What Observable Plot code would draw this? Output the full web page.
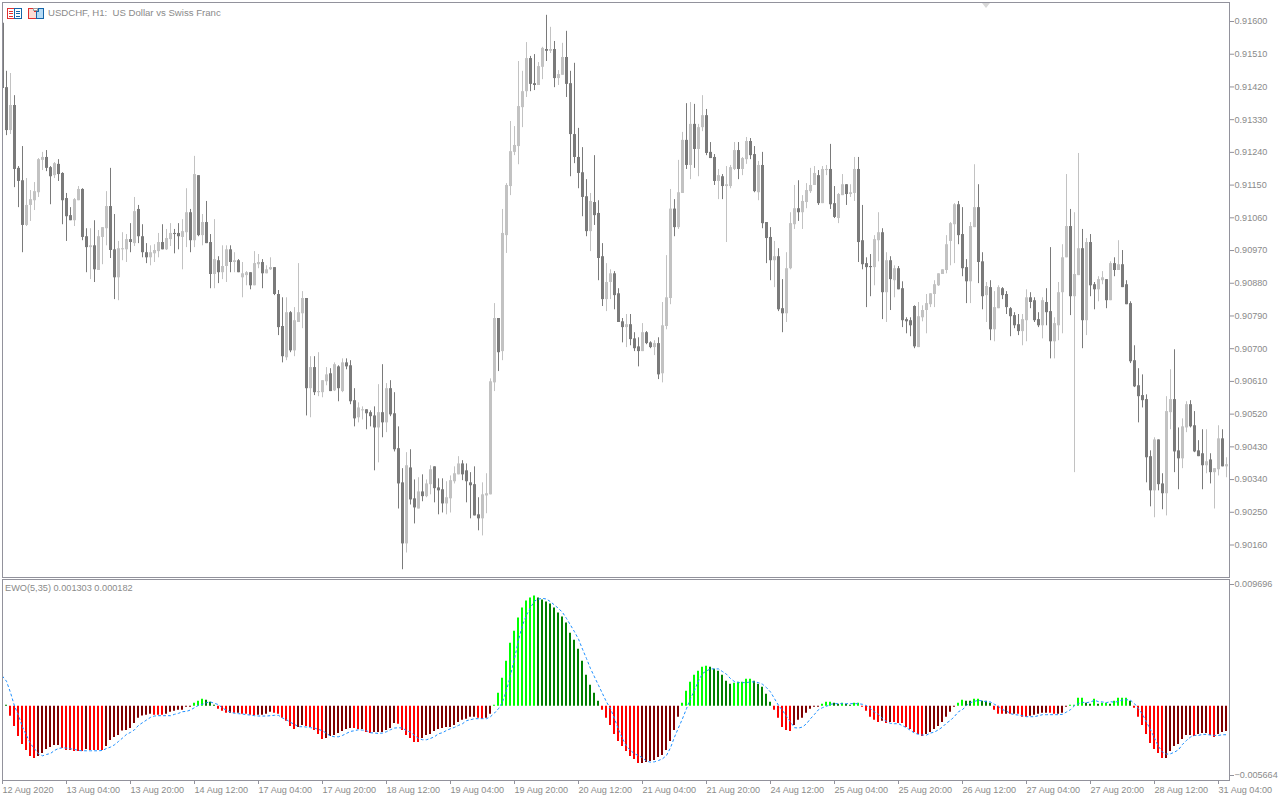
<!DOCTYPE html>
<html>
<head>
<meta charset="utf-8">
<script src="https://cdn.jsdelivr.net/npm/d3@7"></script>
<script src="https://cdn.jsdelivr.net/npm/@observablehq/plot@0.6"></script>
<style>
html,body{margin:0;padding:0;background:#fff;width:1280px;height:800px;overflow:hidden}
#root{position:relative;width:1280px;height:800px;font-family:"Liberation Sans",sans-serif}
#root>*{position:absolute}
.cap{color:#8a8a8a;white-space:pre;line-height:12px}
</style>
</head>
<body>
<div id="root"></div>
<script>
// Prices are stored as points above 0.90000 (1 point = 0.00001)
const highs=[1595,1463,1457,1396,1201,1256,1168,1135,1157,1223,1240,1245,1201,1212,1220,1184,1127,1088,1113,1146,1140,1030,1030,1052,1025,1033,1132,1196,1069,995,1019,1014,1044,1116,1094,1041,989,983,986,1017,1041,1028,1044,1028,1044,1055,1140,1083,1229,1176,1069,1105,1014,1055,953,983,983,983,964,945,937,912,909,967,959,945,928,950,923,860,840,840,802,813,934,857,838,678,678,689,612,648,645,661,653,672,672,667,590,551,540,532,529,540,601,656,604,612,579,485,370,414,422,339,345,353,339,378,375,342,342,334,350,375,403,392,383,359,375,290,331,356,617,824,783,1083,1154,1325,1311,1490,1463,1542,1504,1509,1487,1529,1617,1584,1545,1465,1540,1573,1463,1485,1306,1253,1165,1127,1231,1107,989,934,917,912,865,783,794,794,744,730,769,747,719,722,730,827,956,1138,1110,1218,1295,1374,1377,1372,1317,1396,1358,1267,1234,1193,1179,1201,1204,1267,1267,1226,1281,1278,1256,1215,1240,1047,1033,995,975,890,964,1074,1149,1162,1121,1154,1196,1201,1190,1201,1204,1262,1146,1127,1179,1151,1151,1226,1226,1094,950,959,1011,1074,1030,964,953,928,926,884,785,785,818,827,818,849,851,887,906,917,1011,1047,1099,1105,1088,945,1047,1206,1151,964,882,887,857,873,868,857,813,799,794,794,862,854,840,799,840,865,978,785,882,986,1179,1083,1074,1237,1028,1003,1014,882,898,912,890,939,950,997,970,887,829,708,645,628,573,419,455,449,356,568,642,697,482,507,554,557,527,447,477,477,411,370,488,477,400];
const bodyTops=[1595,1418,1369,1369,1196,1162,1094,1110,1132,1220,1226,1226,1198,1209,1207,1182,1113,1066,1110,1138,1138,1008,983,983,1008,1033,1091,1091,972,975,975,1000,1000,1077,1083,1008,964,964,970,992,992,1003,1017,1017,1017,1022,1074,1074,1179,1176,1047,1047,992,945,942,926,972,972,942,942,906,909,909,934,937,937,917,923,923,849,761,799,799,777,799,838,838,648,648,582,612,628,631,656,650,661,661,653,557,537,532,532,524,515,524,524,590,590,521,425,331,378,372,287,306,306,328,367,375,317,312,290,337,356,383,383,364,331,326,243,298,301,609,783,783,1017,1149,1242,1259,1366,1407,1498,1498,1429,1476,1526,1523,1523,1523,1454,1501,1501,1429,1289,1226,1184,1118,1105,1102,1072,953,882,906,906,851,774,766,766,727,705,744,744,716,714,714,763,840,1084,1084,1129,1273,1273,1317,1317,1308,1341,1341,1240,1226,1176,1173,1151,1198,1245,1245,1223,1270,1270,1234,1204,1204,1047,1006,953,953,810,920,1044,1085,1085,1105,1135,1149,1182,1176,1193,1193,1193,1099,1124,1151,1151,1129,1193,1193,997,934,926,1000,1019,1019,942,942,920,920,865,780,777,816,788,805,824,851,876,906,917,986,1044,1096,1096,1014,923,1036,1088,1088,939,871,868,813,868,865,849,810,791,766,780,840,840,832,780,832,827,802,769,854,950,1036,1036,904,975,975,992,992,876,890,895,890,934,934,931,931,876,824,667,598,571,560,403,449,449,328,527,560,560,419,485,546,546,488,419,411,389,394,370,452,452,381];
const bodyBottoms=[1416,1300,1300,1193,1160,1039,1039,1094,1107,1129,1218,1196,1173,1176,1179,1107,1063,1052,1052,1107,1006,978,978,917,915,1006,1030,970,895,895,972,972,992,989,1008,964,950,950,961,967,972,972,1000,1014,1008,1006,1019,997,997,1011,1011,989,904,904,909,909,926,937,937,909,895,901,873,873,931,906,906,917,849,758,678,675,694,694,772,796,590,590,579,579,579,609,582,584,590,582,650,554,507,510,529,521,513,482,482,496,496,518,422,328,163,163,284,262,259,293,293,326,315,309,273,273,287,334,353,353,334,323,240,232,232,295,298,606,689,692,1011,1146,1240,1256,1363,1407,1427,1424,1424,1474,1518,1518,1443,1443,1452,1427,1289,1226,1182,1116,1022,1022,1066,948,835,835,882,846,772,758,758,725,700,692,692,714,703,703,628,631,761,838,1033,1033,1127,1204,1204,1248,1248,1308,1237,1223,1160,1160,1146,1146,1146,1193,1193,1193,1220,1231,1132,1129,1044,1003,942,942,807,796,796,920,1041,1074,1074,1102,1132,1149,1099,1099,1190,1096,1061,1058,1121,1124,1124,1127,992,931,923,923,923,997,854,854,890,887,862,777,774,763,705,703,785,805,821,849,873,904,915,995,1041,1011,920,884,884,1033,937,843,846,752,752,810,846,813,788,763,747,747,777,827,777,763,763,799,719,719,763,854,950,843,843,901,777,777,873,862,862,887,832,832,915,915,868,821,664,595,568,557,400,309,309,326,301,301,524,416,397,397,482,485,416,403,378,378,359,359,367,375,375];
const lows=[1416,1286,1289,1143,1088,964,1036,1050,1080,1116,1190,1187,1096,1168,1160,1041,995,1052,1036,1107,997,909,890,882,915,931,983,948,835,832,942,937,964,981,989,950,934,928,937,950,972,970,981,961,972,917,978,964,978,1008,983,989,865,865,879,890,882,909,909,909,840,873,862,873,920,865,906,915,846,736,661,667,689,678,772,755,515,510,571,568,565,598,582,582,554,579,642,546,485,496,504,477,485,364,386,455,469,513,416,259,92,138,270,218,259,279,290,298,276,243,248,243,248,328,353,337,276,232,240,199,185,246,298,582,637,667,962,1121,1231,1206,1308,1391,1407,1410,1424,1440,1490,1512,1418,1424,1452,1391,1173,1209,1140,1063,1008,967,1039,887,816,802,835,807,772,716,703,708,692,650,692,711,700,681,615,606,752,821,1008,1028,1127,1193,1165,1196,1173,1297,1231,1223,1149,1110,1110,992,1140,1190,1165,1176,1207,1220,1129,1107,1030,934,887,868,802,744,772,917,1028,1050,1028,1085,1127,1149,1094,1099,1176,1083,1058,1044,1121,1094,1116,1105,937,917,813,843,873,939,780,772,805,840,862,758,741,733,700,703,774,741,813,813,871,904,906,928,934,986,898,824,824,1033,879,807,772,722,719,810,835,794,733,755,736,708,719,810,772,758,727,763,672,672,722,741,950,791,359,901,700,736,843,807,829,876,810,832,898,915,868,821,659,593,496,537,331,265,235,309,257,240,477,359,312,370,469,482,414,403,312,356,328,259,350,375,345];
const rising="0010001111"+"1001000011"+"0010111001"+"1101000111"+"0110011010"+"1001011010"+"1101101100"+"0101110101"+"1101010001"+"1000101000"+"0100101100"+"0111100000"+"1111011111"+"1100110101"+"1000000100"+"0110001000"+"1001011101"+"1010110001"+"0111011001"+"0001001110"+"1111011001"+"1011000011"+"0101000001"+"1111111110"+"0011001011"+"0000011000"+"1001111011"+"0100110101"+"0000000010"+"0110011000"+"0101101";
// EWO histogram and signal, in millionths
const ewoBars=[0,80,-798,-1596,-2394,-3032,-3511,-3990,-4150,-3990,-3751,-3431,-3272,-3112,-3112,-3352,-3511,-3511,-3591,-3591,-3591,-3431,-3511,-3511,-3511,-3511,-3192,-2713,-2474,-2314,-1968,-1915,-1756,-1357,-958,-771,-718,-638,-718,-718,-718,-638,-479,-399,-319,-319,-80,-80,239,399,559,479,319,80,-239,-399,-559,-559,-559,-559,-638,-638,-718,-745,-718,-718,-638,-479,-559,-638,-958,-1197,-1596,-1835,-1676,-1516,-1596,-1676,-1915,-2234,-2633,-2554,-2394,-2314,-2155,-1995,-1835,-1756,-1756,-1835,-1835,-2075,-2155,-2075,-2075,-2075,-1915,-1756,-1357,-1436,-1915,-2314,-2554,-2873,-2873,-2554,-2314,-2234,-1995,-1835,-1756,-1676,-1676,-1516,-1277,-1117,-1037,-878,-878,-958,-1037,-958,-638,80,1037,2234,3591,5027,5985,7022,7820,8379,8618,8778,8618,8459,8299,8140,7820,7421,7102,6623,5825,5267,4549,3591,2474,1676,1037,399,-319,-958,-1516,-2234,-2793,-3192,-3591,-3990,-4229,-4549,-4549,-4469,-4389,-4309,-4070,-3910,-3511,-2793,-1915,-878,239,1197,1915,2474,2793,3112,3192,3112,2953,2793,2474,1995,1756,1835,1915,1915,2155,2155,1995,1756,1516,958,319,-319,-958,-1676,-1915,-1995,-1516,-1117,-958,-559,-239,-80,-80,160,319,319,239,160,239,160,80,239,239,-80,-399,-878,-1117,-1277,-1197,-1357,-1277,-1277,-1357,-1357,-1676,-1835,-2075,-2234,-2394,-2234,-2075,-1835,-1596,-1277,-878,-479,-80,239,479,399,399,559,559,399,399,239,-319,-638,-638,-638,-638,-638,-638,-878,-878,-798,-718,-638,-559,-559,-559,-638,-638,-559,-80,80,80,638,638,239,160,559,160,239,239,160,399,638,638,638,399,-160,-878,-1516,-2234,-2953,-3431,-3751,-4150,-4150,-3591,-3192,-3032,-2633,-2314,-2314,-2394,-2234,-2155,-2155,-2314,-2474,-2234,-2075,-1995];
const ewoSignal=[2394,1995,1091,27,-718,-1649,-2314,-2979,-3378,-3777,-3937,-3830,-3751,-3511,-3352,-3298,-3325,-3378,-3431,-3511,-3538,-3538,-3538,-3538,-3538,-3511,-3352,-3245,-3059,-2793,-2527,-2234,-2075,-1862,-1516,-1303,-1091,-878,-771,-745,-745,-745,-745,-638,-559,-426,-399,-293,-106,80,160,293,346,239,133,-133,-319,-452,-559,-585,-612,-665,-692,-745,-771,-771,-771,-745,-718,-718,-931,-1064,-1277,-1436,-1623,-1623,-1649,-1702,-1729,-1835,-1942,-2155,-2367,-2421,-2421,-2314,-2155,-1995,-1942,-1862,-1889,-1942,-2101,-2128,-2155,-2128,-2022,-1862,-1729,-1702,-1729,-1942,-2048,-2314,-2554,-2660,-2660,-2554,-2421,-2181,-2101,-1915,-1782,-1676,-1516,-1383,-1144,-1064,-984,-984,-984,-984,-825,-532,-186,346,1277,2474,3804,5267,6464,7262,7847,8379,8539,8592,8539,8326,8060,7794,7475,6996,6464,5932,5347,4549,3804,3006,2341,1676,1011,346,-186,-984,-1835,-2580,-3165,-3511,-3777,-3910,-4096,-4362,-4442,-4416,-4309,-4176,-3910,-3298,-2447,-1702,-984,-186,612,1277,2022,2607,2820,2979,2979,2979,2766,2554,2208,1968,1889,1889,1889,1942,1942,1889,1756,1490,1144,612,80,-319,-798,-1250,-1702,-1729,-1649,-1383,-984,-638,-266,-106,0,160,213,213,213,213,213,213,213,160,53,-186,-452,-638,-984,-1197,-1357,-1383,-1383,-1543,-1702,-1915,-2128,-2234,-2288,-2288,-2128,-2048,-1862,-1649,-1330,-1117,-798,-426,-266,80,293,399,479,426,372,346,160,0,-266,-372,-585,-665,-692,-745,-825,-825,-825,-745,-665,-665,-665,-665,-665,-638,-452,-266,53,213,319,293,346,479,372,346,293,372,319,399,505,532,479,213,-186,-638,-1250,-1862,-2527,-3192,-3644,-3804,-3777,-3644,-3458,-3032,-2713,-2447,-2314,-2314,-2234,-2234,-2288,-2314,-2314,-2261,-2261];
// G/L = falling/rising above zero; R/M = falling/rising below zero
const ewoTones="GGRRRRRRRM"+"MMMMMRRRRR"+"RMRRRRMMMM"+"MMMMMMMMRR"+"RMMMMMMMLL"+"LGGGRRRMRM"+"RRRRMMMMRR"+"RRRRMMRRRR"+"RMMMMMMMRR"+"MRRMMMMMMR"+"RRRRRMMMMM"+"MMMMMMMMMR"+"RMMLLLLLLL"+"LLLLGGGGGG"+"GGGGGGGGGG"+"RRRRRRRRRR"+"MMMMMMMMMM"+"LLLLLLLGGG"+"GGGLLLLLGG"+"GGGRRRRRMM"+"MMMMMLLLGG"+"LGGLLRRRRR"+"MRMRRRRRRR"+"RMMMMMMMML"+"LGGLLGGGRR"+"RMRMRRRMMM"+"MMRRMMMLLL"+"LGGLGLLGLL"+"LLGRRRRRRR"+"RMMMMMMMRM"+"MMRRMMM";
const timeLabels=["12 Aug 2020","13 Aug 04:00","13 Aug 20:00","14 Aug 12:00","17 Aug 04:00","17 Aug 20:00","18 Aug 12:00","19 Aug 04:00","19 Aug 20:00","20 Aug 12:00","21 Aug 04:00","21 Aug 20:00","24 Aug 12:00","25 Aug 04:00","25 Aug 20:00","26 Aug 12:00","27 Aug 04:00","27 Aug 20:00","28 Aug 12:00","31 Aug 04:00"];
const priceTicks=[0.9016,0.9025,0.9034,0.9043,0.9052,0.9061,0.907,0.9079,0.9088,0.9097,0.9106,0.9115,0.9124,0.9133,0.9142,0.9151,0.916];

const frameColor="#92929c", textColor="#8a8a8a", candleDown="#7a7a7a", candleUp="#c2c2c2";
const toneColor={G:"#008000",L:"#00ff00",R:"#ff0000",M:"#800000"};
const px=v=>0.9+v*1e-5;
const candles=highs.map((h,i)=>({i,high:px(h),low:px(lows[i]),top:px(bodyTops[i]),bottom:px(bodyBottoms[i]),up:rising[i]==="1"}));
const ewo=ewoBars.map((v,i)=>({i,v:v*1e-6,s:ewoSignal[i]*1e-6,tone:toneColor[ewoTones[i]]}));
const xScale={type:"linear",domain:[0,306.75],range:[2,1229]};
const font='9.1px "Liberation Sans", sans-serif';
const base={width:1280,marginLeft:2,marginRight:51,style:{background:"transparent",font,overflow:"visible"}};

const pricePlot=Plot.plot({...base,height:578,marginTop:2,marginBottom:1,
  x:{...xScale,axis:null},
  y:{type:"linear",domain:[0.9016,0.916],range:[544.5,21],axis:null},
  marks:[
    Plot.ruleX(candles,{x:"i",y1:"low",y2:"high",stroke:d=>d.up?candleUp:candleDown,strokeWidth:1,clip:true}),
    Plot.ruleX(candles,{x:"i",y1:"bottom",y2:"top",stroke:d=>d.up?candleUp:candleDown,strokeWidth:3,clip:true}),
    Plot.axisY({anchor:"right",ticks:priceTicks,tickFormat:d3.format(".5f"),tickSize:4,tickPadding:1,stroke:frameColor,label:null,fill:textColor}),
    Plot.frame({stroke:frameColor})
  ]});

const ewoPlot=Plot.plot({...base,height:222,marginTop:1,marginBottom:20,
  x:{...xScale,axis:null},
  y:{type:"linear",domain:[-0.005664,0.009696],range:[199,6],axis:null},
  marks:[
    Plot.ruleX(ewo,{x:"i",y1:0,y2:"v",stroke:"tone",strokeWidth:2,dx:-0.5,clip:true}),
    Plot.line(ewo,{x:"i",y:"s",stroke:"#1e90ff",strokeWidth:1,strokeDasharray:"2 3",clip:true}),
    Plot.axisY({anchor:"right",ticks:[0.009696],tickFormat:d3.format(".6f"),tickSize:4,tickPadding:1,stroke:frameColor,label:null,fill:textColor}),
    Plot.axisY({anchor:"right",ticks:[-0.005664],tickFormat:d3.format(".6f"),tickSize:4,tickPadding:1,dy:-2,stroke:frameColor,label:null,fill:textColor}),
    Plot.axisX({anchor:"bottom",ticks:timeLabels.map((_,k)=>k*16),tickFormat:i=>timeLabels[i/16],tickSize:4,tickPadding:2,textAnchor:"start",stroke:frameColor,label:null,fill:textColor}),
    Plot.frame({stroke:frameColor})
  ]});

const root=document.getElementById("root");
pricePlot.style.left="0";pricePlot.style.top="0";
ewoPlot.style.left="0";ewoPlot.style.top="578px";
root.append(pricePlot,ewoPlot);

function caption(text,x,y,size){
  const d=document.createElement("div");d.className="cap";d.textContent=text;d.style.fontSize=size+"px";
  d.style.left=x+"px";d.style.top=y+"px";root.append(d);
}
caption("USDCHF, H1:  US Dollar vs Swiss Franc",48,7,9.6);
caption("EWO(5,35) 0.001303 0.000182",5,582,9.2);

const decor=document.createElement("div");
decor.style.left="0";decor.style.top="0";
decor.innerHTML=`<svg width="1280" height="30" style="display:block" shape-rendering="crispEdges">
<rect x="7.5" y="8.5" width="14" height="10" fill="#fff" stroke="#e03030"/><rect x="14.5" y="8.5" width="7" height="10" fill="#fff" stroke="#1565a8"/>
<path d="M9 11h4M9 13.5h4M9 16h4" stroke="#e03030"/><path d="M16 11h4M16 13.5h4M16 16h4" stroke="#1565a8"/>
<path d="M28.5 8.5h6v3h2v7h-8z" fill="#fddcd4" stroke="#e03030"/><path d="M36.5 11.5h2v-3h4.5v10h-6.5z" fill="#b5daf5" stroke="#1565a8"/><rect x="33.5" y="8.5" width="4" height="2" fill="#fff" stroke="#a0a0a0"/>
<path d="M982 3h8l-4 5z" fill="#d8d8d8" shape-rendering="auto"/></svg>`;
root.append(decor);
</script>
</body>
</html>
